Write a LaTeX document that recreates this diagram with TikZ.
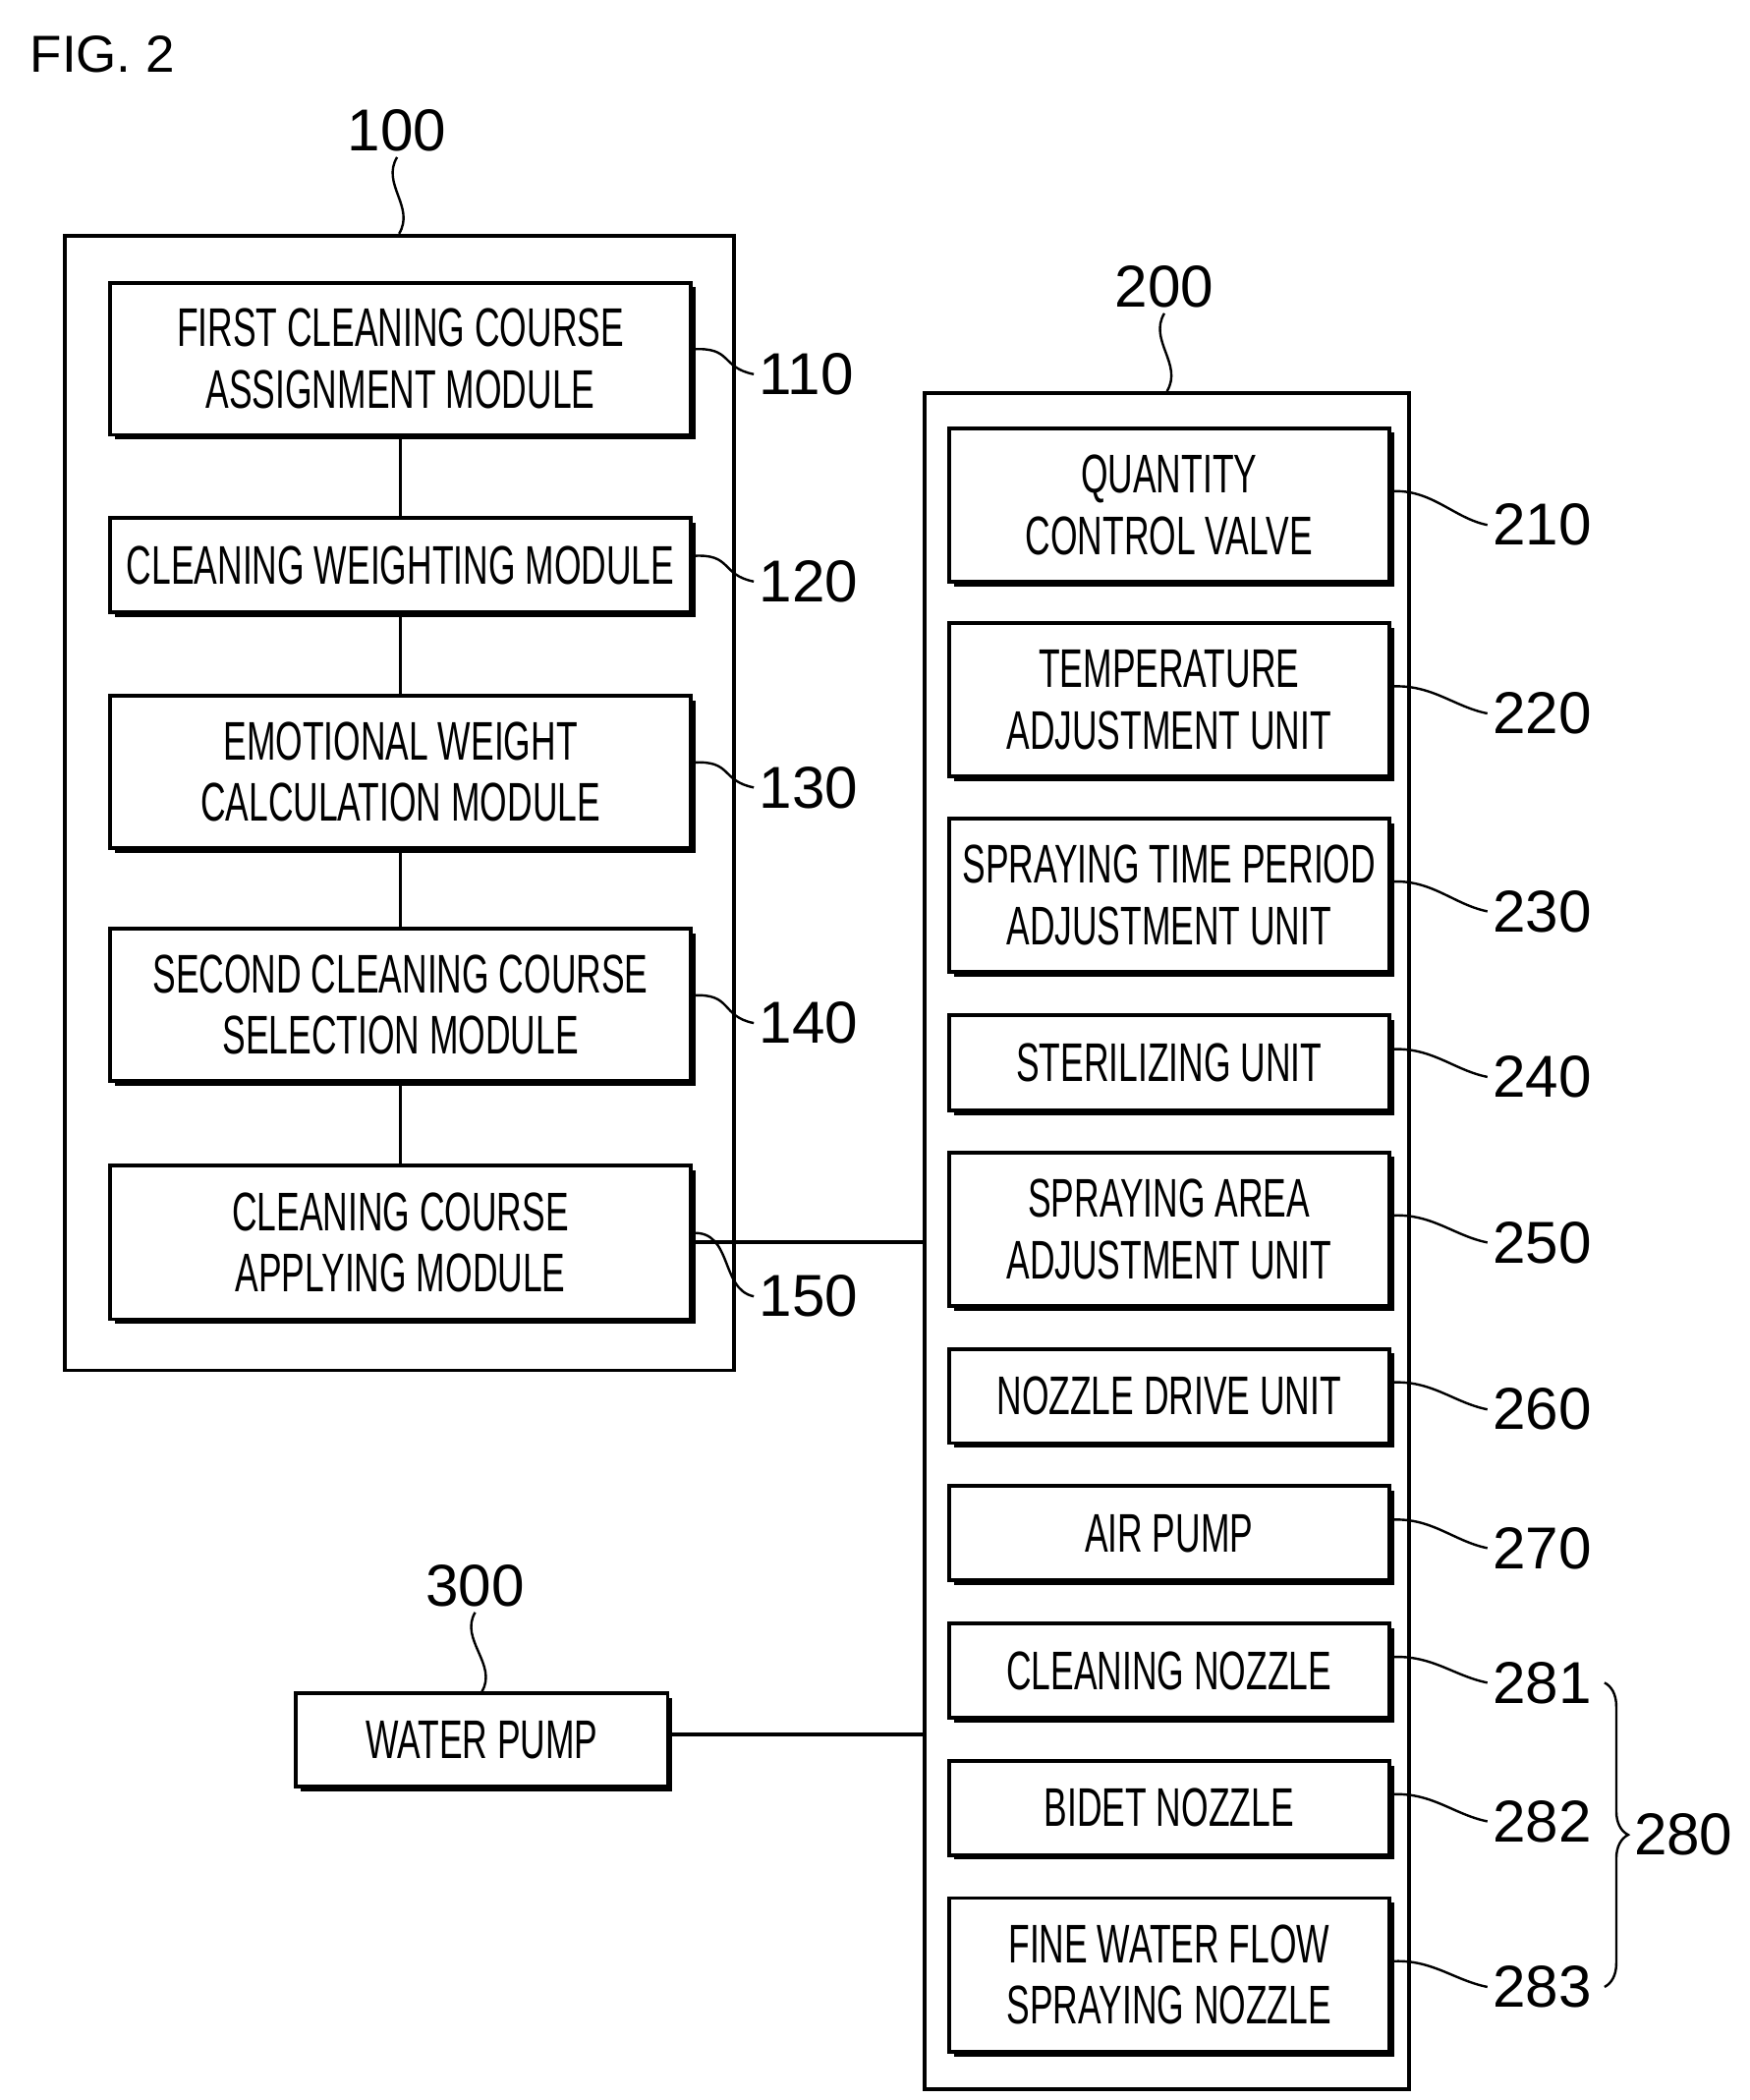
\documentclass[tikz,border=0pt]{standalone}
\usepackage{fontspec}
\setmainfont{Liberation Sans}
\newfontfamily\narrowfont{Liberation Sans}[FakeStretch=0.64]
\usetikzlibrary{calc}
\usetikzlibrary{shadows}
\usetikzlibrary{decorations.pathreplacing}
\usetikzlibrary{positioning}

\begin{document}
\begin{tikzpicture}[
    unit/.style={draw, line width=0.8pt, fill=white, align=center,
      font=\narrowfont\fontsize{11.5}{13}\selectfont, inner sep=0pt,
      drop shadow={shadow xshift=0.035, shadow yshift=-0.035, fill=black, opacity=1}},
    frame/.style={draw, line width=0.8pt},
    ref/.style={font=\fontsize{12.5}{15}\selectfont, inner sep=1pt},
    lead/.style={line width=0.5pt}]
    \useasboundingbox (0,0) rectangle (13.0,-15.6);
    \node[anchor=north west, font=\fontsize{11}{13}\selectfont] (fig) at (0.1,-0.14) {FIG. 2};

    % outer frames
    \node[frame, minimum width=4.97cm, minimum height=8.43cm] (f100) at (2.965,-5.965) {};
    \node[frame, minimum width=3.60cm, minimum height=12.6cm] (f200) at (8.67,-9.22) {};
    \node[ref] (l100) at (2.95,-0.97) {100};
    \node[ref] (l200) at (8.65,-2.13) {200};
    \draw[lead] (l100.south) .. controls +(-0.12,-0.2) and +(0.12,0.2) .. (f100.north);
    \draw[lead] (l200.south) .. controls +(-0.12,-0.2) and +(0.12,0.2) .. (f200.north);

    % modules of 100
    \foreach \n/\y/\h/\t in {110/2.665/1.13/{FIRST CLEANING COURSE\\ASSIGNMENT MODULE},
      120/4.20/0.70/{CLEANING WEIGHTING MODULE},
      130/5.735/1.13/{EMOTIONAL WEIGHT\\CALCULATION MODULE},
      140/7.465/1.13/{SECOND CLEANING COURSE\\SELECTION MODULE},
      150/9.23/1.14/{CLEANING COURSE\\APPLYING MODULE}}{
      \node[unit, minimum width=4.31cm, minimum height=\h cm] (b\n) at (2.975,-\y) {\t};
    }
    \foreach \n/\y in {110/2.78, 120/4.32, 130/5.85, 140/7.60, 150/9.63}{
      \node[ref, anchor=west] (l\n) at (5.6,-\y) {\n};
      \draw[lead] ($(b\n.east)+(0,0.07)$) .. controls +(0.3,0.02) and +(-0.25,0.05) .. (l\n.west);
    }
    \foreach \a/\b in {110/120, 120/130, 130/140, 140/150}{
      \draw[line width=0.8pt] (b\a) -- (b\b);
    }

    % units of 200
    \foreach \n/\y/\h/\t in {210/3.75/1.14/{QUANTITY\\CONTROL VALVE},
      220/5.20/1.14/{TEMPERATURE\\ADJUSTMENT UNIT},
      230/6.65/1.14/{SPRAYING TIME PERIOD\\ADJUSTMENT UNIT},
      240/7.895/0.71/{STERILIZING UNIT},
      250/9.13/1.14/{SPRAYING AREA\\ADJUSTMENT UNIT},
      260/10.37/0.70/{NOZZLE DRIVE UNIT},
      270/11.39/0.70/{AIR PUMP},
      281/12.41/0.70/{CLEANING NOZZLE},
      282/13.43/0.70/{BIDET NOZZLE},
      283/14.67/1.14/{FINE WATER FLOW\\SPRAYING NOZZLE}}{
      \node[unit, minimum width=3.27cm, minimum height=\h cm] (b\n) at (8.685,-\y) {\t};
    }
    \foreach \n/\y in {210/3.90, 220/5.30, 230/6.77, 240/8.00, 250/9.23, 260/10.47, 270/11.50, 281/12.50, 282/13.53, 283/14.76}{
      \node[ref, anchor=west] (l\n) at (11.05,-\y) {\n};
      \draw[lead] ($(b\n.east)+(0,0.1)$) .. controls +(0.3,0.02) and +(-0.25,0.05) .. (l\n.west);
    }
    \draw[lead, decorate, decoration={brace, amplitude=5pt}] (11.92,-12.5) -- (11.92,-14.76)
      node[ref, midway, right=5pt] (l280) {280};

    % water pump
    \node[unit, minimum width=2.76cm, minimum height=0.69cm] (b300) at (3.58,-12.925) {WATER PUMP};
    \node[ref] (l300) at (3.53,-11.78) {300};
    \draw[lead] (l300.south) .. controls +(-0.12,-0.2) and +(0.12,0.2) .. (b300.north);

    % links
    \draw[line width=0.8pt] (b150.east) -- (b150.east -| f200.west);
    \draw[line width=0.8pt] ($(b300.east)+(0,0.04)$) -- ($(b300.east -| f200.west)+(0,0.04)$);
\end{tikzpicture}
\end{document}
